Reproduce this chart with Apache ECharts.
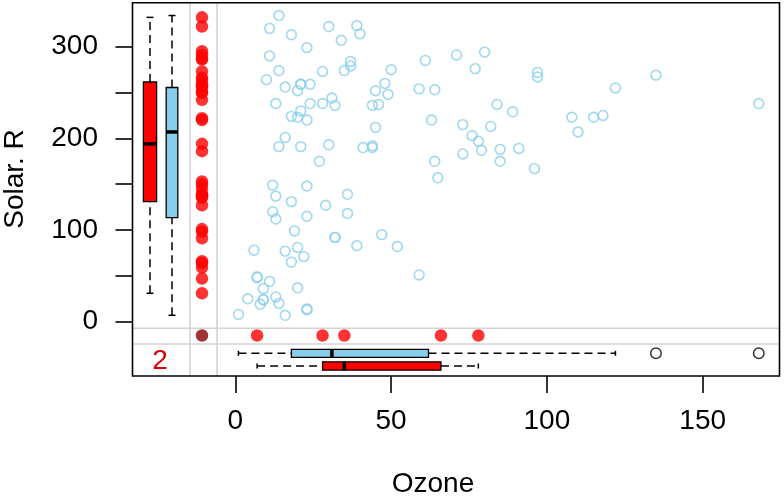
<!DOCTYPE html>
<html><head><meta charset="utf-8">
<script src="https://cdn.jsdelivr.net/npm/echarts@6/dist/echarts.min.js"></script>
<style>html,body{margin:0;padding:0;background:#fff}#c{width:784px;height:496px}</style>
</head><body><div id="c"></div>
<script>
// ---- data (airquality: Ozone vs Solar.R) ----
// complete cases (paired)
const OZONE = [41,36,12,18,23,19,8,16,11,14,18,14,34,6,30,11,1,11,4,32,23,45,115,37,29,71,39,23,21,37,20,12,13,135,49,32,64,40,77,97,97,85,10,27,7,48,35,61,79,63,16,80,108,20,52,82,50,64,59,39,9,16,122,89,110,44,28,65,22,59,23,31,44,21,9,45,168,73,76,118,84,85,96,78,73,91,47,32,20,23,21,24,44,21,28,9,13,46,18,13,24,16,13,23,36,7,14,30,14,18,20];
const SOLAR = [190,118,149,313,299,99,19,256,290,274,65,334,307,78,322,44,8,320,25,92,13,252,223,279,127,291,323,148,191,284,37,120,137,269,248,236,175,314,276,267,272,175,264,175,48,260,274,285,187,220,7,294,223,81,82,213,275,253,254,83,24,77,255,229,207,192,273,157,71,51,115,244,190,259,36,212,238,215,203,225,237,188,167,197,183,189,95,92,252,220,230,259,236,259,238,24,112,237,224,27,238,201,238,14,139,49,20,193,191,131,223];
// Solar.R where Ozone is missing
const SOLAR_OZONE_MISSING = [194,66,266,286,287,242,186,220,264,273,259,250,332,322,150,59,91,250,135,127,47,98,31,138,101,139,291,258,295,222,137,64,255,153,145];
// Ozone where Solar.R is missing
const OZONE_SOLAR_MISSING = [28,7,78,35,66];
const BOTH_MISSING = 2;
const X_TICKS = [0,50,100,150];
const X_LABELS = [0,50,100,150];
const Y_TICKS = [0,50,100,150,200,250,300];
const Y_LABELS = [0,100,200,300];

// ---- layout (pixels) ----
const BOX = {l:132.5, r:779.5, t:2.7, b:376};
const X0 = 235.3, X150 = 702.7, Y0 = 321.7, Y300 = 46.7;
const PX_X = (X150 - X0) / 150, PX_Y = (Y0 - Y300) / 300;
const xData = px => (px - X0) / PX_X;
const yData = px => (Y0 - px) / PX_Y;
const XMIN = xData(BOX.l), XMAX = xData(BOX.r), YMIN = yData(BOX.b), YMAX = yData(BOX.t);
const VLINES = [190, 217], HLINES = [328.3, 344];
const MISS_X_PX = 202, MISS_Y_PX = 335.5;
const FONT = '"Liberation Sans", Arial, Helvetica, sans-serif';
const SKY = '#87CEEB', RED = '#FF0000', DARKRED = '#8B0000';

function fivenum(a){
  const x = a.slice().sort((p,q)=>p-q), n = x.length;
  const n4 = Math.floor((n+3)/2)/2;
  return [1, n4, (n+1)/2, n+1-n4, n].map(v => 0.5*(x[Math.floor(v)-1] + x[Math.ceil(v)-1]));
}
function bstats(a){
  const f = fivenum(a), iqr = f[3]-f[1], lo = f[1]-1.5*iqr, hi = f[3]+1.5*iqr;
  const inr = a.filter(v => v>=lo && v<=hi);
  return {wlo:Math.min(...inr), q1:f[1], med:f[2], q3:f[3], whi:Math.max(...inr), out:a.filter(v => v<lo || v>hi)};
}
const BOXES = [
  {vals:SOLAR_OZONE_MISSING, orient:'v', c:150, half:6.6, cap:3.5, fill:RED},
  {vals:SOLAR,               orient:'v', c:172, half:5.8, cap:3.5, fill:SKY},
  {vals:OZONE,               orient:'h', c:353.3, half:4, cap:2.5, fill:SKY},
  {vals:OZONE_SOLAR_MISSING, orient:'h', c:366, half:4.2, cap:2.5, fill:RED}
];
BOXES.forEach(b => b.st = bstats(b.vals));

const outliers = [];
BOXES.forEach(b => b.st.out.forEach(v => outliers.push(b.orient==='h' ? [v, yData(b.c)] : [xData(b.c), v])));

function renderBox(params, api){
  const B = BOXES[params.dataIndex], s = B.st;
  const P = v => B.orient==='v' ? api.coord([0, v])[1] : api.coord([v, 0])[0];
  const seg = (a, b, c1, c2) => B.orient==='v' ? {x1:c1, y1:a, x2:c2, y2:b} : {x1:a, y1:c1, x2:b, y2:c2};
  const c = B.c, ch = [];
  const dash = {stroke:'#000', lineWidth:1.5, lineDash:[8,5]};
  const solid = {stroke:'#000', lineWidth:1.5};
  ch.push({type:'line', shape:seg(P(s.wlo), P(s.q1), c, c), style:dash});
  ch.push({type:'line', shape:seg(P(s.q3), P(s.whi), c, c), style:dash});
  ch.push({type:'line', shape:seg(P(s.wlo), P(s.wlo), c-B.cap, c+B.cap), style:solid});
  ch.push({type:'line', shape:seg(P(s.whi), P(s.whi), c-B.cap, c+B.cap), style:solid});
  const a1 = P(s.q1), a2 = P(s.q3);
  const rect = B.orient==='v'
    ? {x:c-B.half, y:Math.min(a1,a2), width:2*B.half, height:Math.abs(a2-a1)}
    : {x:Math.min(a1,a2), y:c-B.half, width:Math.abs(a2-a1), height:2*B.half};
  ch.push({type:'rect', shape:rect, style:{fill:B.fill, stroke:'#000', lineWidth:1.3}});
  ch.push({type:'line', shape:seg(P(s.med), P(s.med), c-B.half, c+B.half), style:{stroke:'#000', lineWidth:3.5}});
  return {type:'group', children:ch};
}

const graphics = [];
VLINES.forEach(x => graphics.push({type:'line', z:1, shape:{x1:x, y1:BOX.t, x2:x, y2:BOX.b}, style:{stroke:'#D3D3D3', lineWidth:1.6}}));
HLINES.forEach(y => graphics.push({type:'line', z:1, shape:{x1:BOX.l, y1:y, x2:BOX.r, y2:y}, style:{stroke:'#D3D3D3', lineWidth:1.6}}));
graphics.push({type:'text', z:10, x:433, y:484, style:{text:'Ozone', font:'28px '+FONT, fill:'#000', align:'center', verticalAlign:'middle'}});
graphics.push({type:'text', z:10, x:15, y:179, rotation:Math.PI/2, style:{text:'Solar. R', font:'28px '+FONT, fill:'#000', align:'center', verticalAlign:'middle'}});
graphics.push({type:'text', z:10, x:160, y:361, style:{text:String(BOTH_MISSING), font:'28px '+FONT, fill:'#D80000', align:'center', verticalAlign:'middle'}});

const chart = echarts.init(document.getElementById('c'), null, {renderer:'canvas'});
chart.setOption({
  animation:false,
  backgroundColor:'#fff',
  grid:{left:BOX.l, top:BOX.t, width:BOX.r-BOX.l, height:BOX.b-BOX.t, show:true, borderColor:'#000', borderWidth:1.6, backgroundColor:'transparent', z:5},
  xAxis:{type:'value', min:XMIN, max:XMAX,
    axisLine:{show:false, onZero:false}, splitLine:{show:false},
    axisTick:{show:true, length:17, inside:false, customValues:X_TICKS, lineStyle:{color:'#000', width:1.6}},
    axisLabel:{show:true, customValues:X_LABELS, margin:31, color:'#000', fontSize:28, fontFamily:FONT}},
  yAxis:{type:'value', min:YMIN, max:YMAX,
    axisLine:{show:false, onZero:false}, splitLine:{show:false},
    axisTick:{show:true, length:17, inside:false, customValues:Y_TICKS, lineStyle:{color:'#000', width:1.6}},
    axisLabel:{show:true, customValues:Y_LABELS, margin:34.5, color:'#000', fontSize:28, fontFamily:FONT}},
  graphic:graphics,
  series:[
    {type:'scatter', symbol:'circle', symbolSize:9.8, clip:false, z:3,
      itemStyle:{color:'rgba(0,0,0,0)', borderColor:SKY, borderWidth:1.6},
      data:OZONE.map((o,i)=>[o, SOLAR[i]])},
    {type:'scatter', symbol:'circle', symbolSize:12.5, clip:false, z:4,
      itemStyle:{color:RED},
      data:SOLAR_OZONE_MISSING.map(v=>[xData(MISS_X_PX), v])},
    {type:'scatter', symbol:'circle', symbolSize:12.5, clip:false, z:4,
      itemStyle:{color:RED},
      data:OZONE_SOLAR_MISSING.map(v=>[v, yData(MISS_Y_PX)])},
    {type:'scatter', symbol:'circle', symbolSize:12.5, clip:false, z:4,
      itemStyle:{color:DARKRED},
      data:[[xData(MISS_X_PX), yData(MISS_Y_PX)]]},
    {type:'custom', clip:false, z:4, renderItem:renderBox, data:BOXES.map((b,i)=>[0,0])},
    {type:'scatter', symbol:'circle', symbolSize:10.5, clip:false, z:4,
      itemStyle:{color:'rgba(0,0,0,0)', borderColor:'#000', borderWidth:1.5},
      data:outliers}
  ]
});
</script></body></html>
